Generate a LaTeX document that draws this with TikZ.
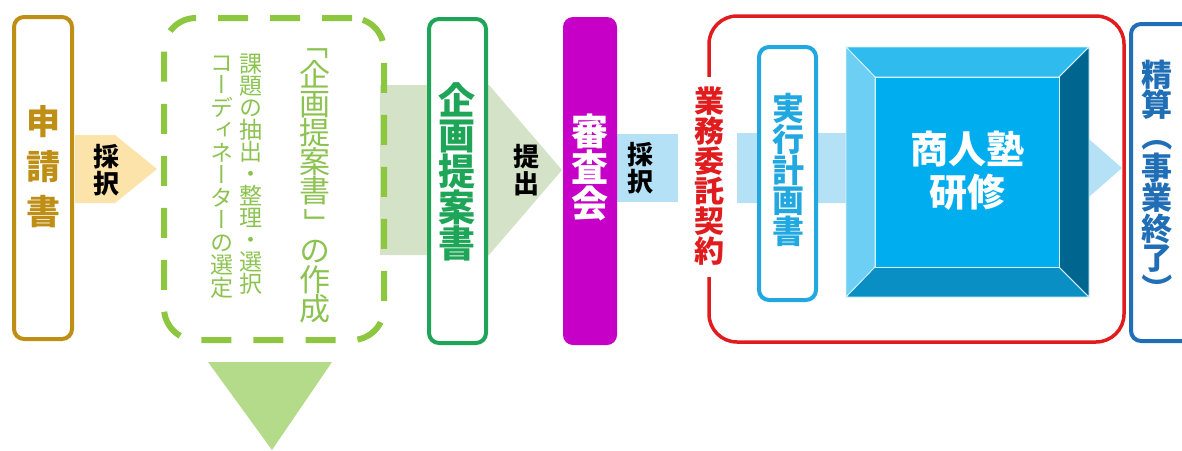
\documentclass[tikz,border=0pt]{standalone}
\usepackage{graphicx}
\usepackage{fontspec}
\newfontfamily\cjk[RawFeature=+vert]{Noto Sans CJK JP}
\newfontfamily\cjkh{Noto Sans CJK JP}
\usetikzlibrary{positioning}
\definecolor{gold}{RGB}{190,143,20}
\definecolor{lorange}{RGB}{252,227,170}
\definecolor{lgreen}{RGB}{141,198,63}
\definecolor{ltext}{RGB}{140,195,80}
\definecolor{dtri}{RGB}{180,219,138}
\definecolor{ggreen}{RGB}{212,227,200}
\definecolor{dgreen}{RGB}{30,165,88}
\definecolor{magen}{RGB}{198,0,198}
\definecolor{lblue}{RGB}{180,225,246}
\definecolor{cred}{RGB}{224,28,30}
\definecolor{cblue}{RGB}{34,168,224}
\definecolor{dblue}{RGB}{31,110,182}
\definecolor{ptop}{RGB}{48,187,238}
\definecolor{pleft}{RGB}{108,207,243}
\definecolor{pmid}{RGB}{0,174,239}
\definecolor{pbot}{RGB}{10,143,196}
\definecolor{pright}{RGB}{0,102,143}
\tikzset{
  box/.style={rounded corners=10pt, line width=4pt, inner sep=0pt},
  vtxt/.style={align=center, inner sep=0pt},
}
\newcommand{\vfs}[2]{\fontsize{#1}{#2}\selectfont}
\newcommand{\vrot}[1]{\rotatebox[origin=c]{-90}{\cjkh #1}}
\begin{document}
\begin{tikzpicture}[x=1pt,y=-1pt]
\useasboundingbox (0,0) rectangle (1182,450);

% background arrows
\fill[ggreen] (380,85) -- (489,85) -- (562,170) -- (489,255) -- (380,255) -- cycle;
\fill[lorange] (75,135) -- (115,135) -- (157,169) -- (115,203) -- (75,203) -- cycle;
\fill[lblue] (617,134) rectangle (678,202);
\fill[lblue] (737,133) -- (1082,133) -- (1122,168) -- (1082,203) -- (737,203) -- cycle;
\fill[dtri] (208,362) -- (332,362) -- (272,450) -- cycle;

% 申請書
\node[box, draw=gold, fill=white, minimum width=58pt, minimum height=322pt] (apply) at (43,178) {};
\node[vtxt, text=gold, font=\cjk\bfseries\vfs{34}{45}] (applyt) at (44,167) {申\\請\\書};
\node[vtxt, font=\cjk\bfseries\vfs{26}{27}] (adopt1) at (106,170) {採\\択};

% dashed box
\node[draw=lgreen, line width=6pt, dash pattern=on 30pt off 22pt, rounded corners=32pt, minimum width=220pt, minimum height=322pt, inner sep=0pt] (plan) at (274,179) {};
\node[vtxt, text=ltext, font=\cjk\vfs{31}{29}] (plant) at (315,176) {\vrot{「}\\企\\画\\提\\案\\書\\\vrot{」}\\の\\作\\成};
\node[vtxt, text=ltext, font=\cjk\vfs{23}{22}] (plan2) at (251,174) {課\\題\\の\\抽\\出\\・\\整\\理\\・\\選\\択};
\node[vtxt, text=ltext, font=\cjk\vfs{23}{22.5}] (plan3) at (222,177) {コ\\ー\\デ\\ィ\\ネ\\ー\\タ\\ー\\の\\選\\定};

% 企画提案書
\node[box, draw=dgreen, fill=white, minimum width=57pt, minimum height=324pt] (prop) at (457.5,181) {};
\node[vtxt, text=dgreen, font=\cjk\bfseries\vfs{37}{35}] (propt) at (457,172) {企\\画\\提\\案\\書};
\node[vtxt, font=\cjk\bfseries\vfs{26}{27}] (submit) at (526,170) {提\\出};

% 審査会
\node[rounded corners=10pt, fill=magen, minimum width=54pt, minimum height=328pt, inner sep=0pt] (review) at (590,181) {};
\node[vtxt, text=white, font=\cjk\bfseries\vfs{37}{36}] (reviewt) at (590,167) {審\\査\\会};
\node[vtxt, font=\cjk\bfseries\vfs{26}{27}] (adopt2) at (640,168) {採\\択};

% red contract box
\node[draw=cred, line width=3.5pt, rounded corners=28pt, minimum width=415pt, minimum height=326pt, inner sep=0pt] (contract) at (916.5,179) {};
\node[fill=white, minimum width=24pt, minimum height=200pt, inner sep=0pt] (gap) at (709,177) {};
\node[vtxt, text=cred, font=\cjk\bfseries\vfs{30}{30}] (contractt) at (709,176) {業\\務\\委\\託\\契\\約};

% 実行計画書
\node[box, draw=cblue, fill=white, minimum width=57pt, minimum height=253pt] (exec) at (787.5,173.5) {};
\node[vtxt, text=cblue, font=\cjk\bfseries\vfs{32}{29.5}] (exect) at (788,170) {実\\行\\計\\画\\書};

% pyramid
\coordinate (o1) at (846,47); \coordinate (o2) at (1089,47);
\coordinate (o3) at (1089,297); \coordinate (o4) at (846,297);
\coordinate (i1) at (875,77); \coordinate (i2) at (1059,77);
\coordinate (i3) at (1059,267); \coordinate (i4) at (875,267);
\begin{scope}[draw=white!85!cyan, line width=0.8pt]
\filldraw[fill=ptop] (o1) -- (o2) -- (i2) -- (i1) -- cycle;
\filldraw[fill=pleft] (o1) -- (i1) -- (i4) -- (o4) -- cycle;
\filldraw[fill=pbot] (o4) -- (i4) -- (i3) -- (o3) -- cycle;
\filldraw[fill=pright] (o2) -- (o3) -- (i3) -- (i2) -- cycle;
\filldraw[fill=pmid] (i1) rectangle (i3);
\end{scope}
\node[vtxt, text=white, font=\cjk\bfseries\vfs{38}{43}] (train) at (967,171) {商人塾\\研修};

% 精算
\node[box, draw=dblue, fill=white, minimum width=70pt, minimum height=317pt] (settle) at (1166,182.5) {};
\node[vtxt, text=dblue, font=\cjk\bfseries\vfs{31}{29}] (settlet) at (1157,182) {精\\算\\\vrot{（}\\事\\業\\終\\了\\\vrot{）}};
\end{tikzpicture}
\end{document}
